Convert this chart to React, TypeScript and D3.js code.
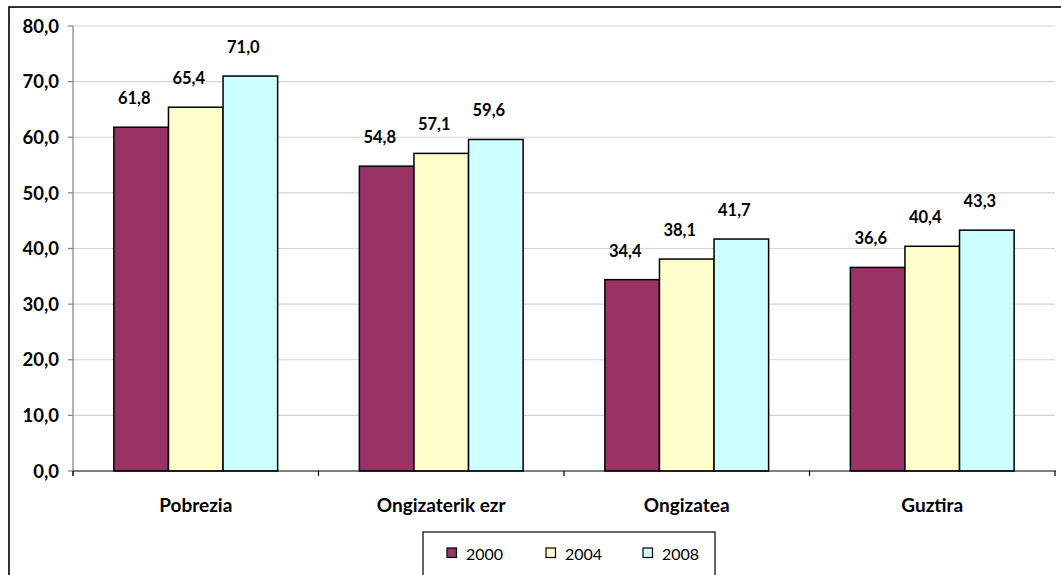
import React from "react";
import * as d3 from "d3";

const categories = ["Pobrezia", "Ongizaterik ezr", "Ongizatea", "Guztira"];
const seriesNames = ["2000", "2004", "2008"];
const values2000 = [61.8, 54.8, 34.4, 36.6];
const values2004 = [65.4, 57.1, 38.1, 40.4];
const values2008 = [71.0, 59.6, 41.7, 43.3];
const yTicks = [0, 10, 20, 30, 40, 50, 60, 70, 80];
const colors = ["#993366", "#FFFFCC", "#CCFFFF"];

const W = 1061;
const H = 575;
const FONT = "Lato, 'Open Sans', sans-serif";

export default function App() {
  const series = [values2000, values2004, values2008];
  const left = 73;
  const right = 1055;
  const top = 26;
  const bottom = 471;
  const x = d3.scaleBand<string>().domain(categories).range([left, right]).paddingInner(0.333).paddingOuter(0.1665);
  const xs = d3.scaleBand<string>().domain(seriesNames).range([0, x.bandwidth()]);
  const y = d3.scaleLinear().domain([0, 80]).range([bottom, top]);
  const fmt = (v: number) => d3.format(".1f")(v).replace(".", ",");

  return (
    <svg width={W} height={H} style={{ position: "absolute", left: 0, top: 0, background: "#fff" }} fontFamily={FONT}>
      <rect x={0} y={0} width={W} height={H} fill="#fff" />
      {/* outer frame */}
      <rect x={9} y={7} width={W + 20} height={H + 20} fill="none" stroke="#000" strokeWidth={1.6} />
      {/* gridlines */}
      {yTicks.filter((t) => t > 0).map((t) => (
        <line key={t} x1={left} x2={right} y1={y(t)} y2={y(t)} stroke="#d4d4d4" strokeWidth={1.2} />
      ))}
      {/* y axis */}
      <line x1={left} x2={left} y1={top} y2={bottom + 5} stroke="#808080" strokeWidth={1.2} />
      {yTicks.map((t) => (
        <g key={t}>
          <line x1={left - 5} x2={left} y1={y(t)} y2={y(t)} stroke="#808080" strokeWidth={1.2} />
          <text x={59} y={y(t)} dy="0.36em" textAnchor="end" fontSize={18.5} fontWeight="bold" fill="#000">
            {fmt(t)}
          </text>
        </g>
      ))}
      {/* bars */}
      {categories.map((c, i) => (
        <g key={c} transform={`translate(${x(c)},0)`}>
          {series.map((s, j) => (
            <rect
              key={j}
              x={xs(seriesNames[j])}
              y={y(s[i])}
              width={xs.bandwidth()}
              height={y(0) - y(s[i])}
              fill={colors[j]}
              stroke="#000"
              strokeWidth={1.5}
            />
          ))}
          {series.map((s, j) => (
            <text
              key={"l" + j}
              x={(xs(seriesNames[j]) as number) + xs.bandwidth() / 2 - 7}
              y={y(s[i]) - 23}
              textAnchor="middle"
              fontSize={16.5}
              fontWeight="bold"
              fill="#000"
            >
              {fmt(s[i])}
            </text>
          ))}
        </g>
      ))}
      {/* x axis */}
      <line x1={left} x2={right + 1} y1={bottom} y2={bottom} stroke="#000" strokeWidth={1.2} />
      {[0, 1, 2, 3, 4].map((k) => (
        <line key={k} x1={left + (k * (right - left)) / 4} x2={left + (k * (right - left)) / 4} y1={bottom} y2={bottom + 5} stroke="#000" strokeWidth={1.2} />
      ))}
      {categories.map((c) => (
        <text key={c} x={(x(c) as number) + x.bandwidth() / 2} y={512} textAnchor="middle" fontSize={19} fontWeight="bold" fill="#000">
          {c}
        </text>
      ))}
      {/* legend */}
      <rect x={423} y={532} width={292} height={60} fill="#fff" stroke="#000" strokeWidth={1.2} />
      {seriesNames.map((n, j) => {
        const lx = [447, 546, 643][j];
        return (
          <g key={n}>
            <rect x={lx} y={548} width={9.5} height={9.5} fill={colors[j]} stroke="#000" strokeWidth={1.2} />
            <text x={lx + 19} y={559.5} fontSize={16} fill="#000">
              {n}
            </text>
          </g>
        );
      })}
    </svg>
  );
}
